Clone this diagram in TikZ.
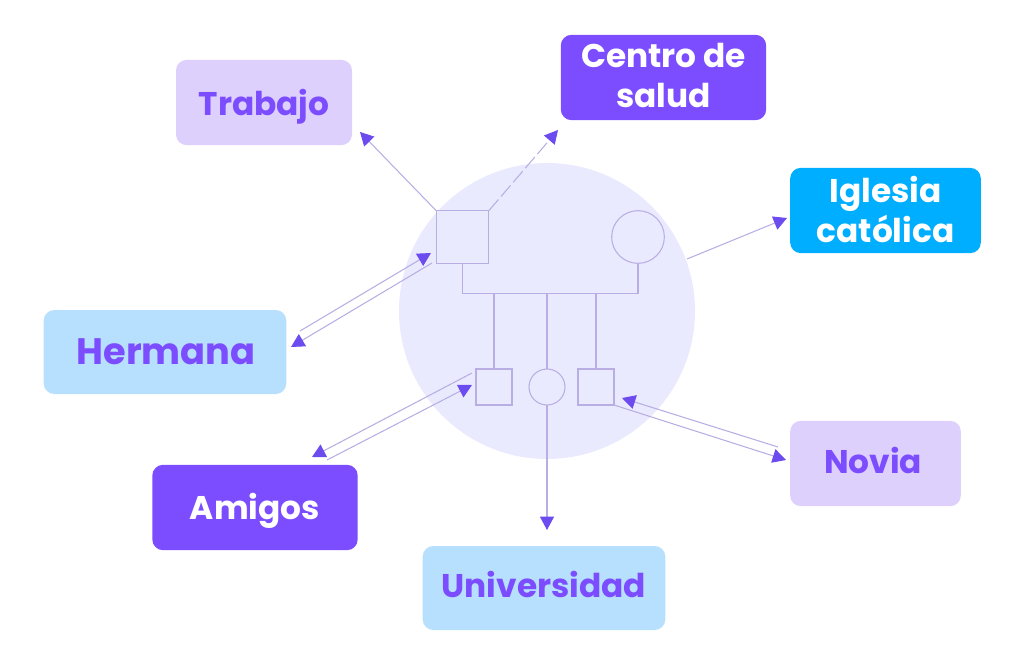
\documentclass[tikz,border=0pt]{standalone}
\usepackage{fontspec}
\setmainfont{Poppins}
\usetikzlibrary{arrows.meta}

\definecolor{lilac}{HTML}{DDD0FD}
\definecolor{violet}{HTML}{7C4DFF}
\definecolor{sky}{HTML}{00AEFF}
\definecolor{pale}{HTML}{B7DFFE}
\definecolor{halo}{HTML}{EAEAFE}
\definecolor{wire}{HTML}{B8AEE4}
\definecolor{tipcol}{HTML}{6C4BEF}

\newcommand{\nudged}[2]{\raisebox{#1}[\height][\depth]{#2}}

\tikzset{
    px/.style={x=0.75pt, y=-0.75pt},
    box/.style={rounded corners=8pt, inner sep=0pt, outer sep=0pt, align=center, font=\bfseries\fontsize{24.6}{29.3}\selectfont},
    lightbox/.style={box, text=violet},
    darkbox/.style={box, text=white},
    male/.style={draw=wire, line width=0.8pt, inner sep=0pt, outer sep=0pt},
    female/.style={circle, draw=wire, line width=0.8pt, inner sep=0pt, outer sep=0pt},
    wireline/.style={draw=wire, line width=0.8pt},
    link/.style={wireline, -{Stealth[inset=0pt, color=tipcol, length=10pt, width=10.5pt]}},
}

\begin{document}
\begin{tikzpicture}[px]
    \useasboundingbox (0,0) rectangle (1024,663);
    \node[circle, fill=halo, minimum size=222pt, inner sep=0pt] (family) at (547,311) {};

    \node[lightbox, fill=lilac, minimum width=132pt, minimum height=64pt] (trabajo) at (264,102.5) {\nudged{-3pt}{Trabajo}};
    \node[darkbox, fill=violet, minimum width=154pt, minimum height=64pt] (centro) at (663.5,77.5) {\nudged{1.5pt}{Centro de}\\\nudged{1.5pt}{salud}};
    \node[darkbox, fill=sky, minimum width=143pt, minimum height=64pt] (iglesia) at (885.5,210.5) {\nudged{0.75pt}{Iglesia}\\\nudged{0.75pt}{católica}};
    \node[lightbox, fill=pale, minimum width=182pt, minimum height=63pt, font=\bfseries\fontsize{27.6}{30}\selectfont] (hermana) at (165,352) {\hspace*{1.5pt}Hermana};
    \node[darkbox, fill=violet, minimum width=154pt, minimum height=64pt] (amigos) at (255,507.5) {\nudged{-2.25pt}{Amigos}};
    \node[lightbox, fill=pale, minimum width=182pt, minimum height=63pt] (universidad) at (544,588) {\nudged{3pt}{Universidad}};
    \node[lightbox, fill=lilac, minimum width=128pt, minimum height=64pt] (novia) at (875.5,463.5) {\nudged{2.25pt}{Novia}\hspace*{3.5pt}};

    \node[male, minimum size=39.5pt] (father) at (462.5,237) {};
    \node[female, minimum size=39.5pt] (mother) at (638,237) {};
    \node[male, minimum size=27pt] (son) at (494,387) {};
    \node[female, minimum size=27pt] (daughter) at (547,387) {};
    \node[male, minimum size=27pt] (youngest) at (596,387) {};

    % family lines
    \draw[wireline] (father.south) -- ++(0,30) coordinate (bar) -| (mother.south);
    \draw[wireline] (son.north) -- (son.north |- bar);
    \draw[wireline] (daughter.north) -- (daughter.north |- bar);
    \draw[wireline] (youngest.north) -- (youngest.north |- bar);

    % free ends of the links
    \coordinate (trabajoEnd) at (360,132);
    \coordinate (centroEnd) at (558,130);
    \coordinate (iglesiaStart) at (687,259);
    \coordinate (iglesiaEnd) at (787,218);
    \coordinate (hermanaA) at (300,331);
    \coordinate (hermanaB) at (431,253);
    \coordinate (hermanaC) at (432,263);
    \coordinate (hermanaD) at (291,347);
    \coordinate (amigosA) at (472,373);
    \coordinate (amigosB) at (312,457);
    \coordinate (amigosC) at (327,460);
    \coordinate (amigosD) at (472,385);
    \coordinate (noviaA) at (778,447);
    \coordinate (noviaB) at (622,398);
    \coordinate (noviaC) at (786,460);
    \coordinate (uniEnd) at (547,530);

    \draw[link] (father.north west) -- (trabajoEnd);
    \draw[link, dash pattern=on 11pt off 3pt] (father.north east) -- (centroEnd);
    \draw[link] (iglesiaStart) -- (iglesiaEnd);
    \draw[link] (hermanaA) -- (hermanaB);
    \draw[link] (hermanaC) -- (hermanaD);
    \draw[link] (amigosA) -- (amigosB);
    \draw[link] (amigosC) -- (amigosD);
    \draw[link] (noviaA) -- (noviaB);
    \draw[link] (youngest.south east) -- (noviaC);
    \draw[link] (daughter.south) -- (uniEnd);
\end{tikzpicture}
\end{document}
